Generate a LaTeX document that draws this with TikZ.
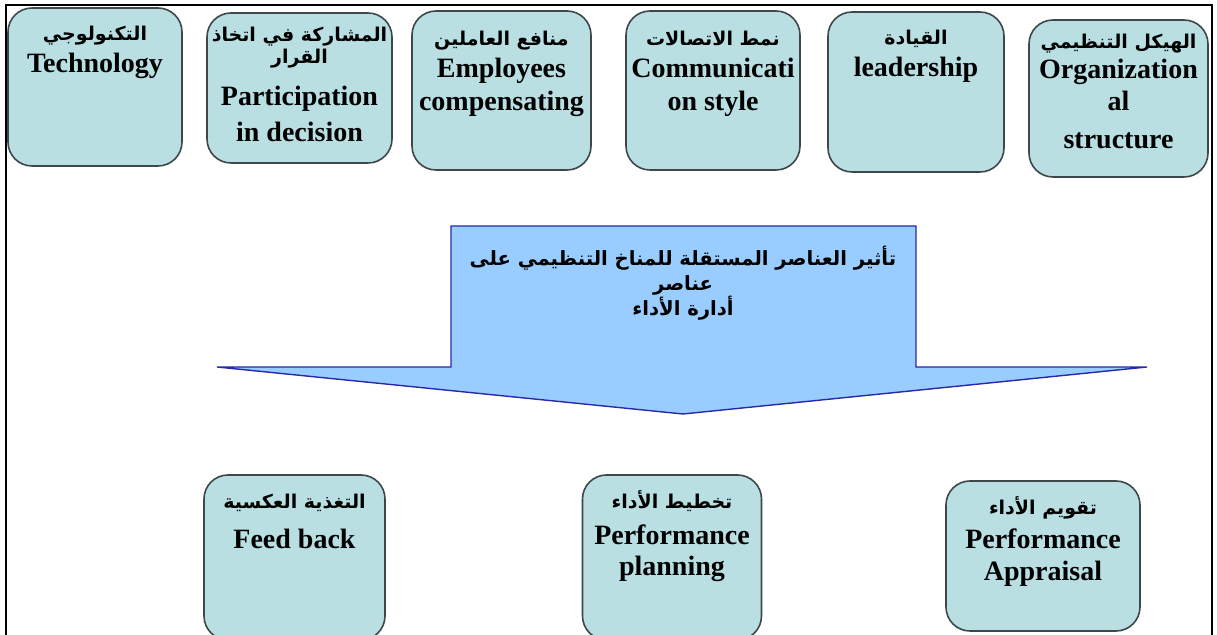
\documentclass[tikz,border=0pt]{standalone}
\usepackage{fontspec}
\setmainfont{Liberation Serif}
\newfontfamily\arabicfont[Script=Arabic]{DejaVu Sans}
\TeXXeTstate=1
\usepackage{tikz}
\usetikzlibrary{positioning}
\definecolor{boxfill}{RGB}{185,223,227}
\definecolor{boxline}{RGB}{62,72,74}
\definecolor{arrowfill}{RGB}{153,204,255}
\definecolor{arrowline}{RGB}{40,40,170}
\newcommand{\artxt}[1]{{\arabicfont\bfseries\fontsize{9.5}{12}\selectfont\beginR #1\endR}}

\begin{document}
\begin{tikzpicture}[x=0.5pt,y=-0.5pt,
    factor/.style={draw=boxline,fill=boxfill,line width=0.8pt,rounded corners=12pt,inner sep=0pt},
    factortext/.style={align=center,inner sep=0pt,font=\bfseries\fontsize{14}{15}\selectfont}]
        \useasboundingbox (0,0) rectangle (1217,635);
        \clip (0,0) rectangle (1217,635);
        % frame
        \draw[line width=1.3pt] (6,640)--(6,5)--(1212,5)--(1212,640);
        % climate factors
        \node[factor,minimum width=87pt,minimum height=79pt] (tech) at (95,87) {};
        \node[factortext,below=9pt of tech.north] (techtext) {\artxt{التكنولوجي}\\[1pt]Technology};
        \node[factor,minimum width=92.5pt,minimum height=75pt] (part) at (299.5,88) {};
        \node[factortext,below=7pt of part.north] (parttext) {\artxt{المشاركة في اتخاذ}\\[-4pt]\artxt{القرار}\\[6pt]Participation\\[3pt]in decision};
        \node[factor,minimum width=89.5pt,minimum height=79.5pt] (comp) at (501.5,90.5) {};
        \node[factortext,below=10pt of comp.north] (comptext) {\artxt{منافع العاملين}\\[1pt]Employees\\[1.5pt]compensating};
        \node[factor,minimum width=87pt,minimum height=79.5pt] (comm) at (713,90.5) {};
        \node[factortext,below=10pt of comm.north] (commtext) {\artxt{نمط الاتصالات}\\[1pt]Communicati\\[1.5pt]on style};
        \node[factor,minimum width=88pt,minimum height=80pt] (lead) at (916,92) {};
        \node[factortext,below=9pt of lead.north] (leadtext) {\artxt{القيادة}\\[1pt]leadership};
        \node[factor,minimum width=89.5pt,minimum height=78.5pt] (org) at (1118.5,98.5) {};
        \node[factortext,below=7pt of org.north] (orgtext) {\artxt{الهيكل التنظيمي}\\[0pt]Organization\\[1pt]al\\[4pt]structure};
        % big arrow
        \draw (451,226) coordinate (s1);
        \draw (916,226) coordinate (s2);
        \draw (916,367) coordinate (s3);
        \draw (1147,367) coordinate (h1);
        \draw (683,414) coordinate (tip);
        \draw (217,367) coordinate (h2);
        \draw (451,367) coordinate (s4);
        \draw[draw=arrowline,fill=arrowfill,line width=0.7pt] (s1)--(s2)--(s3)--(h1)--(tip)--(h2)--(s4)--cycle;
        \node[align=center,font=\arabicfont\bfseries\fontsize{9.8}{12.5}\selectfont] (effect) at (683,283)
            {\beginR تأثير العناصر المستقلة للمناخ التنظيمي على\endR\\\beginR عناصر\endR\\\beginR أدارة الأداء\endR};
        % performance management
        \node[factor,minimum width=90.5pt,minimum height=82.5pt] (feed) at (294.5,557.5) {};
        \node[factortext,below=9.5pt of feed.north] (feedtext) {\artxt{التغذية العكسية}\\[5pt]Feed back};
        \node[factor,minimum width=89.5pt,minimum height=82.5pt] (plan) at (672,557.5) {};
        \node[factortext,below=8pt of plan.north] (plantext) {\artxt{تخطيط الأداء}\\[3pt]Performance\\[0.5pt]planning};
        \node[factor,minimum width=97pt,minimum height=75pt] (appr) at (1043,556) {};
        \node[factortext,below=8pt of appr.north] (apprtext) {\artxt{تقويم الأداء}\\[2pt]Performance\\[1pt]Appraisal};
    \end{tikzpicture}
\end{document}
